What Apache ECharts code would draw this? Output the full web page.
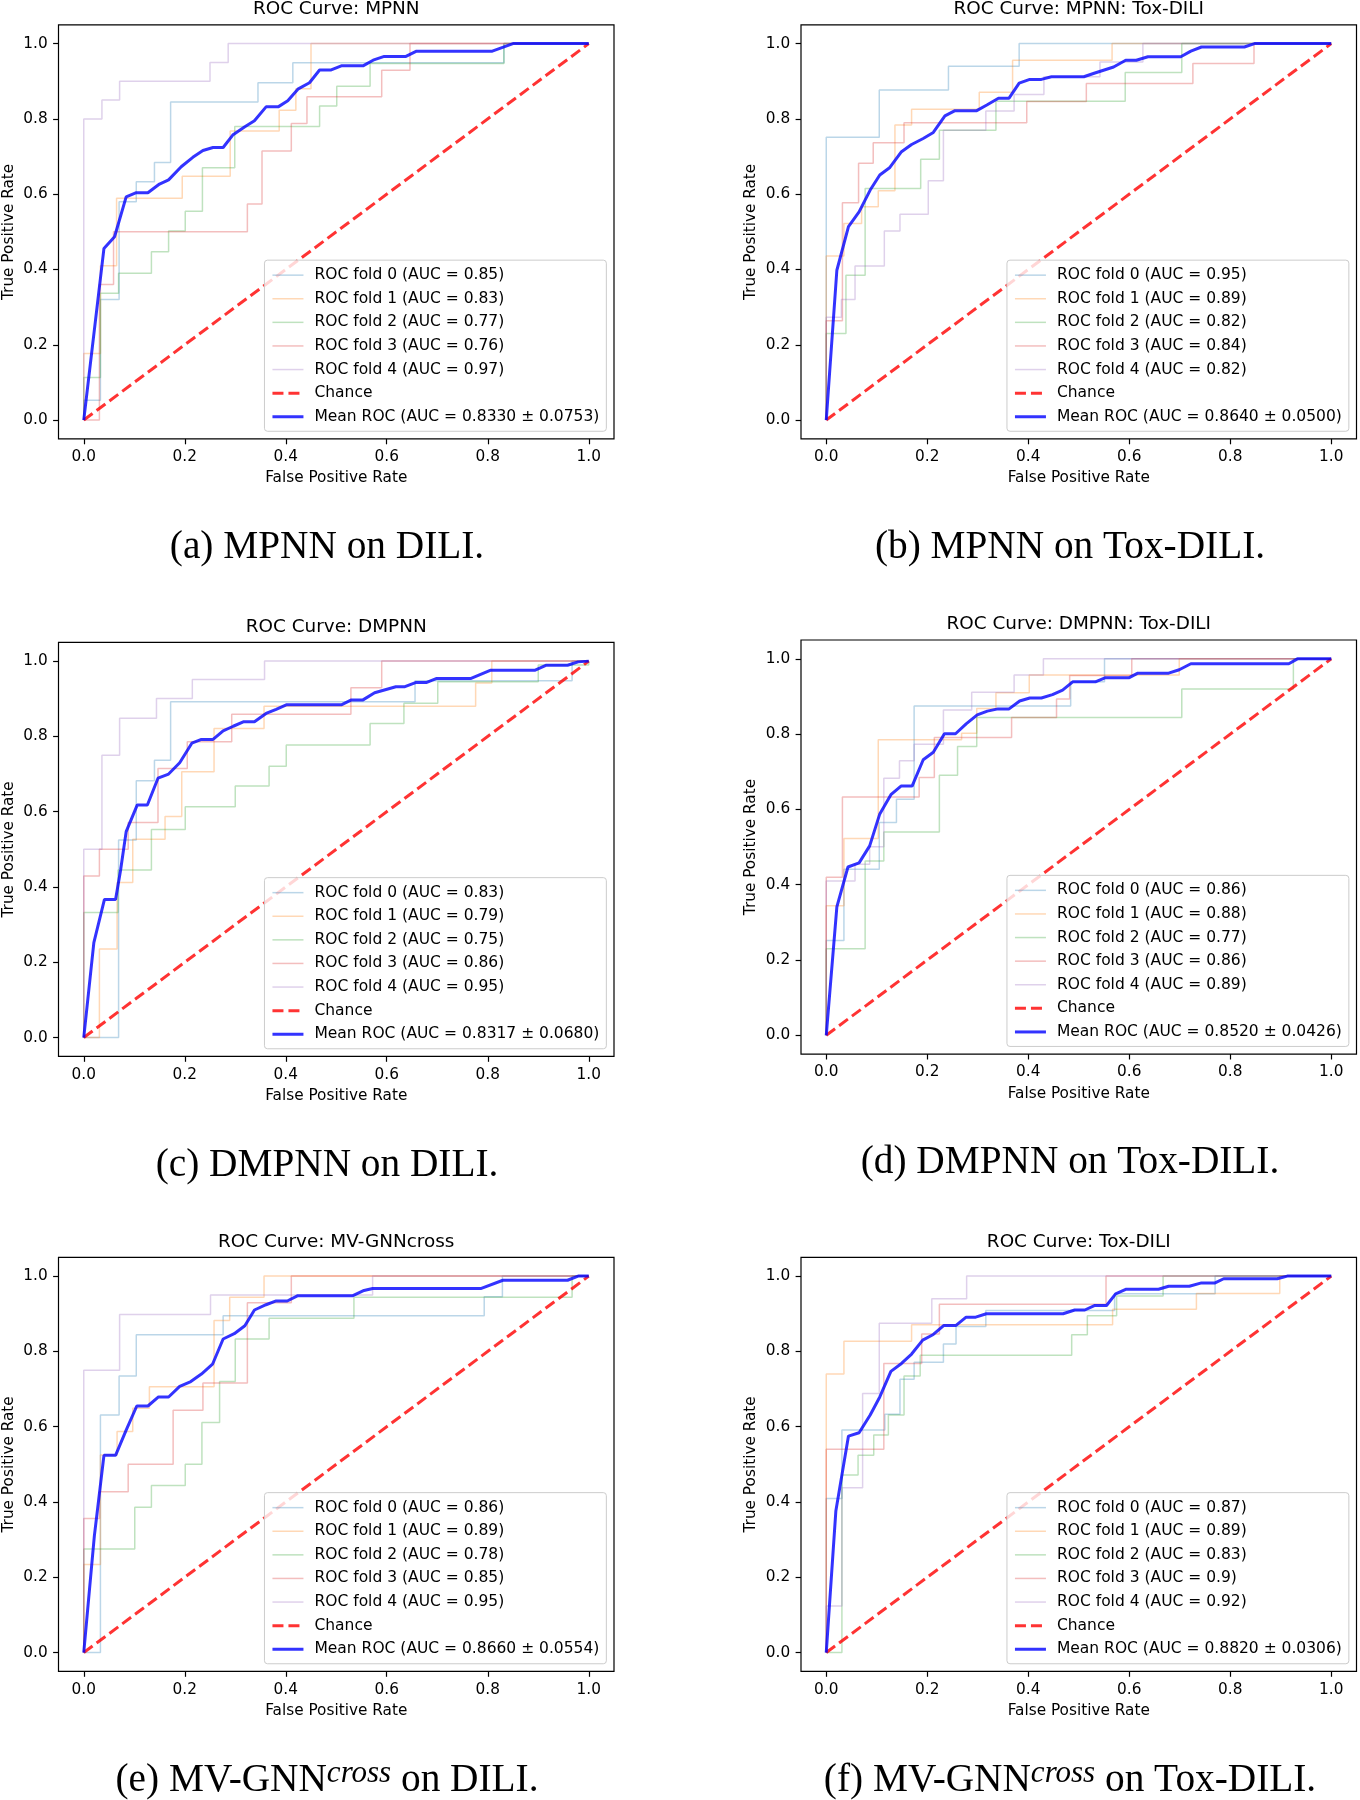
<!DOCTYPE html>
<html><head><meta charset="utf-8">
<script src="https://cdn.jsdelivr.net/npm/echarts@6/dist/echarts.min.js"></script>
<style>html,body{margin:0;padding:0;background:#fff}#c{width:1360px;height:1800px}</style>
</head><body><div id="c"></div><script>
// ---------------- data ----------------
const TICKS = [0, 0.2, 0.4, 0.6, 0.8, 1.0];
const CHANCE = [[0, 0], [1, 1]];

// Panel (a) MPNN on DILI
const A_TITLE = 'ROC Curve: MPNN';
const A_CAPTION = '(a) MPNN on DILI.';
const A_AUC = ['0.85', '0.83', '0.77', '0.76', '0.97'];
const A_MEAN_LABEL = 'Mean ROC (AUC = 0.8330 ± 0.0753)';
const A_FOLD0 = [[0,0.053],[0.033,0.32],[0.07,0.58],[0.104,0.633],[0.14,0.684],[0.172,0.845],[0.345,0.896],[0.414,0.949],[0.832,1]];
const A_FOLD1 = [[0,0.177],[0.033,0.41],[0.065,0.589],[0.195,0.648],[0.29,0.768],[0.387,0.823],[0.42,0.88],[0.45,1]];
const A_FOLD2 = [[0,0.113],[0.033,0.337],[0.069,0.39],[0.134,0.447],[0.168,0.502],[0.201,0.555],[0.235,0.67],[0.299,0.78],[0.467,0.834],[0.501,0.887],[0.567,0.947],[0.832,1]];
const A_FOLD3 = [[0.031,0.36],[0.059,0.5],[0.324,0.574],[0.353,0.715],[0.411,0.788],[0.442,0.859],[0.59,0.929],[0.646,1]];
const A_FOLD4 = [[0,0.8],[0.036,0.85],[0.071,0.9],[0.25,0.95],[0.286,1]];
const A_MEAN = [[0,0],[0.04,0.456],[0.061,0.487],[0.084,0.593],[0.104,0.604],[0.127,0.604],[0.15,0.627],[0.168,0.638],[0.193,0.673],[0.216,0.698],[0.236,0.716],[0.256,0.724],[0.276,0.724],[0.295,0.757],[0.319,0.779],[0.338,0.795],[0.361,0.832],[0.385,0.832],[0.404,0.848],[0.424,0.879],[0.447,0.896],[0.467,0.93],[0.49,0.93],[0.51,0.941],[0.553,0.941],[0.573,0.956],[0.595,0.966],[0.638,0.966],[0.659,0.98],[0.809,0.98],[0.85,1],[1,1]];

// Panel (b) MPNN on Tox-DILI
const B_TITLE = 'ROC Curve: MPNN: Tox-DILI';
const B_CAPTION = '(b) MPNN on Tox-DILI.';
const B_AUC = ['0.95', '0.89', '0.82', '0.84', '0.82'];
const B_MEAN_LABEL = 'Mean ROC (AUC = 0.8640 ± 0.0500)';
const B_FOLD0 = [[0,0.751],[0.105,0.877],[0.242,0.94],[0.382,1]];
const B_FOLD1 = [[0,0.436],[0.035,0.522],[0.07,0.567],[0.103,0.609],[0.136,0.784],[0.169,0.826],[0.303,0.871],[0.369,0.956],[0.566,1]];
const B_FOLD2 = [[0,0.23],[0.039,0.385],[0.077,0.615],[0.187,0.693],[0.224,0.77],[0.336,0.847],[0.592,0.923],[0.704,1]];
const B_FOLD3 = [[0,0.264],[0.032,0.577],[0.064,0.682],[0.093,0.737],[0.154,0.79],[0.397,0.846],[0.515,0.894],[0.726,0.947],[0.847,1]];
const B_FOLD4 = [[0,0.273],[0.03,0.32],[0.057,0.409],[0.115,0.502],[0.146,0.547],[0.202,0.636],[0.232,0.77],[0.316,0.821],[0.372,0.865],[0.431,0.912],[0.542,0.951],[0.627,1]];
const B_MEAN = [[0,0],[0.021,0.398],[0.044,0.514],[0.065,0.553],[0.087,0.611],[0.106,0.651],[0.126,0.671],[0.149,0.713],[0.169,0.732],[0.192,0.748],[0.212,0.764],[0.235,0.808],[0.255,0.822],[0.298,0.822],[0.318,0.837],[0.341,0.855],[0.362,0.855],[0.382,0.895],[0.403,0.905],[0.426,0.905],[0.446,0.912],[0.51,0.912],[0.532,0.922],[0.569,0.938],[0.593,0.956],[0.614,0.956],[0.637,0.965],[0.702,0.965],[0.722,0.98],[0.743,0.991],[0.828,0.991],[0.848,1],[1,1]];

// Panel (c) DMPNN on DILI
const C_TITLE = 'ROC Curve: DMPNN';
const C_CAPTION = '(c) DMPNN on DILI.';
const C_AUC = ['0.83', '0.79', '0.75', '0.86', '0.95'];
const C_MEAN_LABEL = 'Mean ROC (AUC = 0.8317 ± 0.0680)';
const C_FOLD0 = [[0.069,0.525],[0.104,0.682],[0.14,0.737],[0.172,0.892],[0.656,0.948],[0.967,1]];
const C_FOLD1 = [[0.031,0.235],[0.066,0.412],[0.097,0.527],[0.161,0.587],[0.194,0.706],[0.258,0.821],[0.357,0.88],[0.776,0.942],[0.808,1]];
const C_FOLD2 = [[0,0.332],[0.068,0.445],[0.134,0.553],[0.201,0.613],[0.3,0.668],[0.367,0.721],[0.401,0.777],[0.567,0.834],[0.634,0.888],[0.701,0.945],[0.9,0.99],[1,1]];
const C_FOLD3 = [[0,0.429],[0.031,0.5],[0.088,0.571],[0.147,0.715],[0.205,0.786],[0.293,0.859],[0.529,0.929],[0.59,1]];
const C_FOLD4 = [[0,0.5],[0.036,0.75],[0.071,0.848],[0.144,0.901],[0.215,0.951],[0.358,1]];
const C_MEAN = [[0,0],[0.02,0.252],[0.041,0.367],[0.063,0.367],[0.073,0.445],[0.084,0.547],[0.106,0.618],[0.126,0.618],[0.147,0.689],[0.168,0.7],[0.19,0.73],[0.214,0.782],[0.233,0.792],[0.256,0.792],[0.276,0.815],[0.296,0.827],[0.317,0.839],[0.338,0.839],[0.361,0.861],[0.381,0.872],[0.401,0.884],[0.51,0.884],[0.53,0.897],[0.553,0.897],[0.576,0.916],[0.618,0.932],[0.636,0.932],[0.657,0.943],[0.678,0.943],[0.699,0.954],[0.767,0.954],[0.806,0.976],[0.894,0.976],[0.915,0.989],[0.958,0.989],[0.979,0.998],[1,1]];

// Panel (d) DMPNN on Tox-DILI
const D_TITLE = 'ROC Curve: DMPNN: Tox-DILI';
const D_CAPTION = '(d) DMPNN on Tox-DILI.';
const D_AUC = ['0.86', '0.88', '0.77', '0.86', '0.89'];
const D_MEAN_LABEL = 'Mean ROC (AUC = 0.8520 ± 0.0426)';
const D_FOLD0 = [[0,0.252],[0.035,0.441],[0.105,0.565],[0.139,0.627],[0.174,0.875],[0.484,0.939],[0.551,1]];
const D_FOLD1 = [[0,0.344],[0.035,0.523],[0.103,0.785],[0.268,0.802],[0.298,0.868],[0.336,0.91],[0.402,0.957],[0.699,1]];
const D_FOLD2 = [[0,0.23],[0.077,0.463],[0.114,0.54],[0.224,0.691],[0.26,0.767],[0.298,0.844],[0.704,0.92],[0.925,1]];
const D_FOLD3 = [[0,0.42],[0.032,0.633],[0.184,0.685],[0.214,0.791],[0.367,0.844],[0.456,0.893],[0.482,0.956],[0.605,1]];
const D_FOLD4 = [[0,0.41],[0.057,0.454],[0.086,0.501],[0.114,0.683],[0.145,0.729],[0.174,0.773],[0.232,0.864],[0.288,0.911],[0.372,0.957],[0.43,1]];
const D_MEAN = [[0,0],[0.021,0.341],[0.043,0.447],[0.065,0.458],[0.086,0.503],[0.106,0.588],[0.128,0.639],[0.148,0.662],[0.17,0.662],[0.192,0.732],[0.212,0.752],[0.234,0.801],[0.256,0.801],[0.277,0.827],[0.299,0.851],[0.319,0.861],[0.34,0.867],[0.362,0.867],[0.383,0.888],[0.403,0.896],[0.426,0.896],[0.448,0.905],[0.468,0.917],[0.488,0.939],[0.533,0.939],[0.553,0.95],[0.6,0.95],[0.617,0.962],[0.678,0.962],[0.699,0.971],[0.722,0.987],[0.916,0.987],[0.933,1],[1,1]];

// Panel (e) MV-GNN cross on DILI
const E_TITLE = 'ROC Curve: MV-GNNcross';
const E_CAPTION = '(e) MV-GNN{sup|cross} on DILI.';
const E_AUC = ['0.86', '0.89', '0.78', '0.85', '0.95'];
const E_MEAN_LABEL = 'Mean ROC (AUC = 0.8660 ± 0.0554)';
const E_FOLD0 = [[0.033,0.631],[0.07,0.735],[0.104,0.844],[0.276,0.895],[0.793,0.945],[0.829,1]];
const E_FOLD1 = [[0,0.234],[0.033,0.525],[0.066,0.587],[0.097,0.649],[0.13,0.706],[0.258,0.882],[0.289,0.944],[0.357,1]];
const E_FOLD2 = [[0,0.275],[0.101,0.386],[0.134,0.444],[0.201,0.5],[0.234,0.611],[0.269,0.72],[0.3,0.833],[0.367,0.888],[0.535,0.944],[0.967,1]];
const E_FOLD3 = [[0,0.356],[0.031,0.427],[0.088,0.5],[0.177,0.644],[0.236,0.716],[0.324,0.929],[0.411,1]];
const E_FOLD4 = [[0,0.75],[0.071,0.898],[0.251,0.95],[0.572,1]];
const E_MEAN = [[0,0],[0.021,0.31],[0.04,0.524],[0.063,0.524],[0.084,0.591],[0.105,0.655],[0.127,0.655],[0.148,0.679],[0.168,0.679],[0.19,0.707],[0.212,0.72],[0.233,0.74],[0.255,0.766],[0.276,0.833],[0.298,0.847],[0.319,0.868],[0.338,0.91],[0.361,0.924],[0.381,0.934],[0.403,0.934],[0.424,0.948],[0.533,0.948],[0.555,0.962],[0.572,0.967],[0.786,0.967],[0.83,0.989],[0.958,0.989],[0.979,1],[1,1]];

// Panel (f) MV-GNN cross on Tox-DILI
const F_TITLE = 'ROC Curve: Tox-DILI';
const F_CAPTION = '(f) MV-GNN{sup|cross} on Tox-DILI.';
const F_AUC = ['0.87', '0.89', '0.83', '0.9', '0.92'];
const F_MEAN_LABEL = 'Mean ROC (AUC = 0.8820 ± 0.0306)';
const F_FOLD0 = [[0,0.409],[0.031,0.591],[0.116,0.633],[0.146,0.726],[0.174,0.771],[0.232,0.82],[0.257,0.866],[0.316,0.909],[0.571,0.953],[0.77,1]];
const F_FOLD1 = [[0,0.74],[0.035,0.827],[0.169,0.871],[0.567,0.912],[0.733,0.954],[0.898,1]];
const F_FOLD2 = [[0.031,0.472],[0.063,0.524],[0.094,0.578],[0.123,0.631],[0.154,0.735],[0.186,0.79],[0.486,0.844],[0.517,0.895],[0.575,0.947],[0.667,1]];
const F_FOLD3 = [[0,0.54],[0.114,0.768],[0.189,0.846],[0.224,0.925],[0.554,1]];
const F_FOLD4 = [[0,0.124],[0.031,0.438],[0.072,0.688],[0.105,0.875],[0.209,0.94],[0.278,1]];
const F_MEAN = [[0,0],[0.019,0.376],[0.044,0.575],[0.065,0.584],[0.087,0.631],[0.106,0.679],[0.128,0.747],[0.149,0.768],[0.169,0.793],[0.191,0.83],[0.212,0.845],[0.233,0.869],[0.257,0.869],[0.277,0.891],[0.296,0.891],[0.317,0.9],[0.469,0.9],[0.492,0.91],[0.512,0.91],[0.532,0.922],[0.555,0.922],[0.573,0.953],[0.593,0.965],[0.658,0.965],[0.678,0.973],[0.719,0.973],[0.743,0.982],[0.77,0.982],[0.787,0.993],[0.893,0.993],[0.913,1],[1,1]];

// ---------------- layout / styles ----------------
const FOLD_COLORS = ['rgba(31,119,180,0.3)', 'rgba(255,127,14,0.3)', 'rgba(44,160,44,0.3)', 'rgba(214,39,40,0.3)', 'rgba(148,103,189,0.3)'];
const MEAN_COLOR = 'rgba(0,0,255,0.8)';
const CHANCE_COLOR = 'rgba(255,0,0,0.8)';
const SANS = 'DejaVu Sans';
const SERIF = 'Liberation Serif';
const FS = 15.3;
const LFS = 15.5;

const PANELS = [
  {title: A_TITLE, caption: A_CAPTION, auc: A_AUC, meanLabel: A_MEAN_LABEL, folds: [A_FOLD0, A_FOLD1, A_FOLD2, A_FOLD3, A_FOLD4], mean: A_MEAN,
   grid: {left: 58.5, top: 24.8}, cap: {x: 327, y: 547.5}},
  {title: B_TITLE, caption: B_CAPTION, auc: B_AUC, meanLabel: B_MEAN_LABEL, folds: [B_FOLD0, B_FOLD1, B_FOLD2, B_FOLD3, B_FOLD4], mean: B_MEAN,
   grid: {left: 801, top: 24.8}, cap: {x: 1070, y: 547.5}},
  {title: C_TITLE, caption: C_CAPTION, auc: C_AUC, meanLabel: C_MEAN_LABEL, folds: [C_FOLD0, C_FOLD1, C_FOLD2, C_FOLD3, C_FOLD4], mean: C_MEAN,
   grid: {left: 58.5, top: 642.3}, cap: {x: 327, y: 1165.5}},
  {title: D_TITLE, caption: D_CAPTION, auc: D_AUC, meanLabel: D_MEAN_LABEL, folds: [D_FOLD0, D_FOLD1, D_FOLD2, D_FOLD3, D_FOLD4], mean: D_MEAN,
   grid: {left: 801, top: 640}, cap: {x: 1070, y: 1162.8}},
  {title: E_TITLE, caption: E_CAPTION, auc: E_AUC, meanLabel: E_MEAN_LABEL, folds: [E_FOLD0, E_FOLD1, E_FOLD2, E_FOLD3, E_FOLD4], mean: E_MEAN,
   grid: {left: 58.5, top: 1257.3}, cap: {x: 327, y: 1781}},
  {title: F_TITLE, caption: F_CAPTION, auc: F_AUC, meanLabel: F_MEAN_LABEL, folds: [F_FOLD0, F_FOLD1, F_FOLD2, F_FOLD3, F_FOLD4], mean: F_MEAN,
   grid: {left: 801, top: 1257.3}, cap: {x: 1070, y: 1781}}
];
const GW = 555.5, GH = 414.1, W = 1360, H = 1800;

function stairs(rises) {
  const pts = [[0, 0]];
  let y = 0;
  rises.forEach(([x, ny]) => { pts.push([x, y]); pts.push([x, ny]); y = ny; });
  pts.push([1, y]);
  if (y < 1) pts.push([1, 1]);
  return pts;
}

const grids = [], xAxes = [], yAxes = [], series = [], legends = [], titles = [];
const tickLabel = {customValues: TICKS, formatter: v => v.toFixed(1), color: '#000', fontFamily: SANS, fontSize: FS};
const tick = {show: true, customValues: TICKS, length: 5.4, inside: false, lineStyle: {color: '#000', width: 1.2}};
const nameStyle = {color: '#000', fontFamily: SANS, fontSize: FS};
const hiddenSymbol = {color: 'rgba(0,0,0,0)', borderColor: 'rgba(0,0,0,0)', borderWidth: 0, opacity: 0};

PANELS.forEach((p, i) => {
  grids.push({left: p.grid.left, top: p.grid.top, width: GW, height: GH, show: true, borderColor: '#000', borderWidth: 1.2,
    backgroundColor: 'transparent', containLabel: false, outerBoundsMode: 'none'});
  xAxes.push({type: 'value', gridIndex: i, min: -0.05, max: 1.05, position: 'bottom',
    axisLine: {show: false, onZero: false}, axisTick: tick, axisLabel: Object.assign({margin: 10.8}, tickLabel), splitLine: {show: false},
    name: 'False Positive Rate', nameLocation: 'middle', nameGap: 32, nameTextStyle: nameStyle});
  yAxes.push({type: 'value', gridIndex: i, min: -0.05, max: 1.05, position: 'left',
    axisLine: {show: false, onZero: false}, axisTick: tick, axisLabel: Object.assign({margin: 10.8}, tickLabel), splitLine: {show: false},
    name: 'True Positive Rate', nameLocation: 'middle', nameRotate: 90, nameGap: 42, nameTextStyle: nameStyle});
  const legendData = [];
  p.folds.forEach((f, k) => {
    const name = 'ROC fold ' + k + ' (AUC = ' + p.auc[k] + ')';
    series.push({type: 'line', name, xAxisIndex: i, yAxisIndex: i, data: stairs(f), symbol: 'none', showSymbol: false,
      lineStyle: {color: FOLD_COLORS[k], width: 1.5}, itemStyle: {color: FOLD_COLORS[k]}, silent: true, z: 2});
    legendData.push({name, lineStyle: {width: 1.5, color: FOLD_COLORS[k]}, itemStyle: hiddenSymbol});
  });
  series.push({type: 'line', name: 'Chance', xAxisIndex: i, yAxisIndex: i, data: CHANCE, symbol: 'none', showSymbol: false,
    lineStyle: {color: CHANCE_COLOR, width: 3, type: [11, 5]}, itemStyle: {color: CHANCE_COLOR}, silent: true, z: 3});
  legendData.push({name: 'Chance', lineStyle: {width: 3, color: CHANCE_COLOR, type: [11, 5]}, itemStyle: hiddenSymbol});
  series.push({type: 'line', name: p.meanLabel, xAxisIndex: i, yAxisIndex: i, data: p.mean, symbol: 'none', showSymbol: false,
    lineStyle: {color: MEAN_COLOR, width: 3}, itemStyle: {color: MEAN_COLOR}, silent: true, z: 4});
  legendData.push({name: p.meanLabel, lineStyle: {width: 3, color: MEAN_COLOR}, itemStyle: hiddenSymbol});

  legends.push({orient: 'vertical', right: W - (p.grid.left + GW - 7.65), bottom: H - (p.grid.top + GH - 7.65),
    data: legendData, itemWidth: 31, itemHeight: 14, itemGap: 7.6, padding: [7, 7, 6.5, 6.5],
    backgroundColor: 'rgba(255,255,255,0.8)', borderColor: '#cccccc', borderWidth: 1, borderRadius: 3,
    itemStyle: hiddenSymbol,
    selectedMode: false, textStyle: {fontFamily: SANS, fontSize: LFS, color: '#000', padding: [0, 0, 0, 6]}});

  titles.push({text: p.title, left: p.grid.left + GW / 2, top: p.grid.top - 15.5, textAlign: 'center', textVerticalAlign: 'middle', padding: 0,
    textStyle: {fontFamily: SANS, fontSize: 18.4, fontWeight: 'normal', color: '#000'}});
  titles.push({text: p.caption, left: p.cap.x, top: p.cap.y, textAlign: 'center', textVerticalAlign: 'middle', padding: 0,
    textStyle: {fontFamily: SERIF, fontSize: 39.3, fontWeight: 'normal', color: '#000', lineHeight: 46,
      rich: {sup: {fontFamily: SERIF, fontStyle: 'italic', fontSize: 31, lineHeight: 31, verticalAlign: 'top', color: '#000'}}}});
});

const chart = echarts.init(document.getElementById('c'), null, {renderer: 'canvas', width: W, height: H});
chart.setOption({
  animation: false,
  backgroundColor: '#fff',
  title: titles,
  grid: grids,
  xAxis: xAxes,
  yAxis: yAxes,
  legend: legends,
  series: series
});
</script></body></html>
